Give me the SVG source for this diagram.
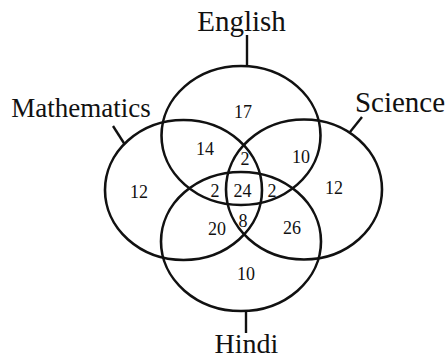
<svg xmlns="http://www.w3.org/2000/svg" width="446" height="358" viewBox="0 0 446 358">
<style>
.c{fill:none;stroke:#111;stroke-width:2.6}
.l{stroke:#111;stroke-width:2.4;fill:none}
.t{font-family:"Liberation Serif","Times New Roman",serif;fill:#111;text-anchor:middle}
.n{font-family:"Liberation Serif","Times New Roman",serif;fill:#111;text-anchor:middle;font-size:18px}
</style>
<rect width="446" height="358" fill="#fff"/>
<g id="english"><ellipse class="c" cx="241" cy="135.5" rx="79.5" ry="69.5"/><text class="t" x="241.5" y="31" font-size="29">English</text></g>
<g id="mathematics"><ellipse class="c" cx="183.5" cy="190" rx="78.5" ry="70"/><text class="t" x="81" y="117" font-size="27">Mathematics</text></g>
<g id="science"><ellipse class="c" cx="304" cy="189.5" rx="78" ry="70"/><text class="t" x="400" y="112" font-size="29">Science</text></g>
<g id="hindi"><ellipse class="c" cx="241" cy="241.5" rx="80" ry="69.5"/><text class="t" x="246.5" y="353" font-size="28">Hindi</text></g>
<g id="connectors">
<line class="l" x1="247" y1="35" x2="247" y2="66"/>
<line class="l" x1="113" y1="126" x2="124.5" y2="144"/>
<line class="l" x1="362" y1="117" x2="350" y2="132"/>
<line class="l" x1="246" y1="311" x2="246" y2="333"/>
</g>
<g id="numbers">
<text class="n" x="243" y="118">17</text>
<text class="n" x="205" y="155">14</text>
<text class="n" x="245" y="165">2</text>
<text class="n" x="301" y="163">10</text>
<text class="n" x="139" y="198">12</text>
<text class="n" x="215" y="197">2</text>
<text class="n" x="242.5" y="197">24</text>
<text class="n" x="272" y="197">2</text>
<text class="n" x="334" y="194">12</text>
<text class="n" x="217" y="235">20</text>
<text class="n" x="243" y="227">8</text>
<text class="n" x="292" y="234">26</text>
<text class="n" x="246" y="280">10</text>
</g>
</svg>
